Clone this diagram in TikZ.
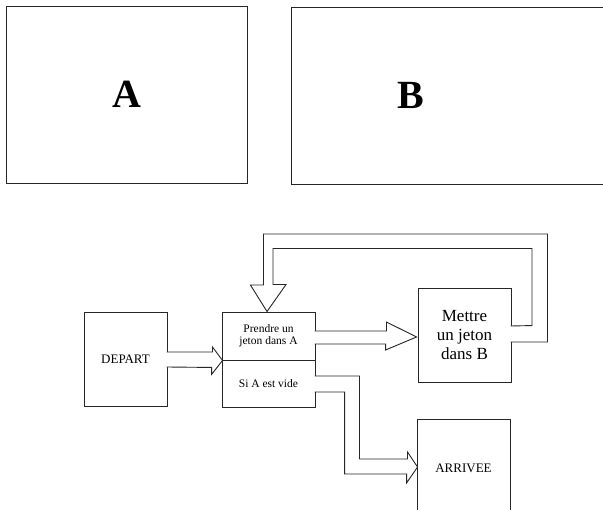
\documentclass[tikz,border=0pt]{standalone}
\usepackage{fontspec}
\setmainfont{Liberation Serif}
\usetikzlibrary{positioning,calc}

\begin{document}
\begin{tikzpicture}[x=1pt, y=-1pt,
    bigbox/.style={rectangle, draw=black!85, line width=0.9pt, inner sep=0pt},
    flowbox/.style={rectangle, draw=black!85, line width=0.9pt, minimum width=93pt, align=center, inner sep=0pt},
    hollowarr/.style={draw=black!85, fill=white, line width=0.9pt, line join=miter},
    letter/.style={font=\fontsize{40}{40}\selectfont\bfseries}
]
\clip (0,0) rectangle (603,510);

% Containers
\node[bigbox, minimum width=241pt, minimum height=177pt, letter] (boxA) at (126.5,94.5) {A};
\node[bigbox, minimum width=360pt, minimum height=177pt] (boxB) at (471,95.5) {};
\node[letter] (lblB) at (411,95) {B};

% Flow boxes
\node[flowbox, minimum width=83pt, minimum height=94pt, font=\fontsize{13}{15}\selectfont] (depart) at (125.5,359) {DEPART};
\node[flowbox, minimum height=48pt, font=\fontsize{11.5}{12}\selectfont] (prendre) at (268.5,336) {Prendre un\\jeton dans A};
\node[flowbox, minimum height=47pt, font=\fontsize{11.5}{13}\selectfont] (vide) at (268.5,383.5) {Si A est vide};
\node[flowbox, minimum height=94pt, font=\fontsize{17}{19}\selectfont] (mettre) at (464.5,335) {Mettre\\un jeton\\dans B};
\node[flowbox, minimum height=98pt, font=\fontsize{13}{15}\selectfont] (arrivee) at (463.5,468) {ARRIVEE};

% Hollow arrows
\filldraw[hollowarr] ($(depart.east)+(-0.8,-7)$) -- ++(45.8,0) -- ++(0,-5)
    -- ($(prendre.south west)+(1,0)$) -- ++(-11,14) -- ++(0,-7) -- ($(depart.east)+(-0.8,8)$);
\filldraw[hollowarr] ($(prendre.east)+(-0.8,-5)$) -- ++(71.8,0) -- ++(0,-9)
    -- ($(mettre.west)+(-1,2)$) -- ++(-31,13) -- ++(0,-6) -- ($(prendre.east)+(-0.8,8)$);

% Loop back to A
\filldraw[hollowarr] ($(mettre.east)+(-0.8,7)$) -- ++(36.8,0) -- ++(0,-108) -- ++(-284,0)
    -- ++(0,51) -- ++(-13,0) -- ($(prendre.north)+(-1.5,0)$) -- ++(19,-27) -- ++(-13,0)
    -- ++(0,-36) -- ++(259,0) -- ++(0,77) -- ($(mettre.east)+(-0.8,-9)$);

% Exit when A is empty
\filldraw[hollowarr] ($(vide.east)+(-0.8,-7.5)$) -- ++(44.8,0) -- ++(0,83) -- ++(48,0)
    -- ++(0,-7) -- ($(arrivee.west)+(1,-1)$) -- ++(-11,16) -- ++(0,-9) -- ++(-62,0)
    -- ++(0,-82) -- ($(vide.east)+(-0.8,8.5)$);
\end{tikzpicture}
\end{document}
